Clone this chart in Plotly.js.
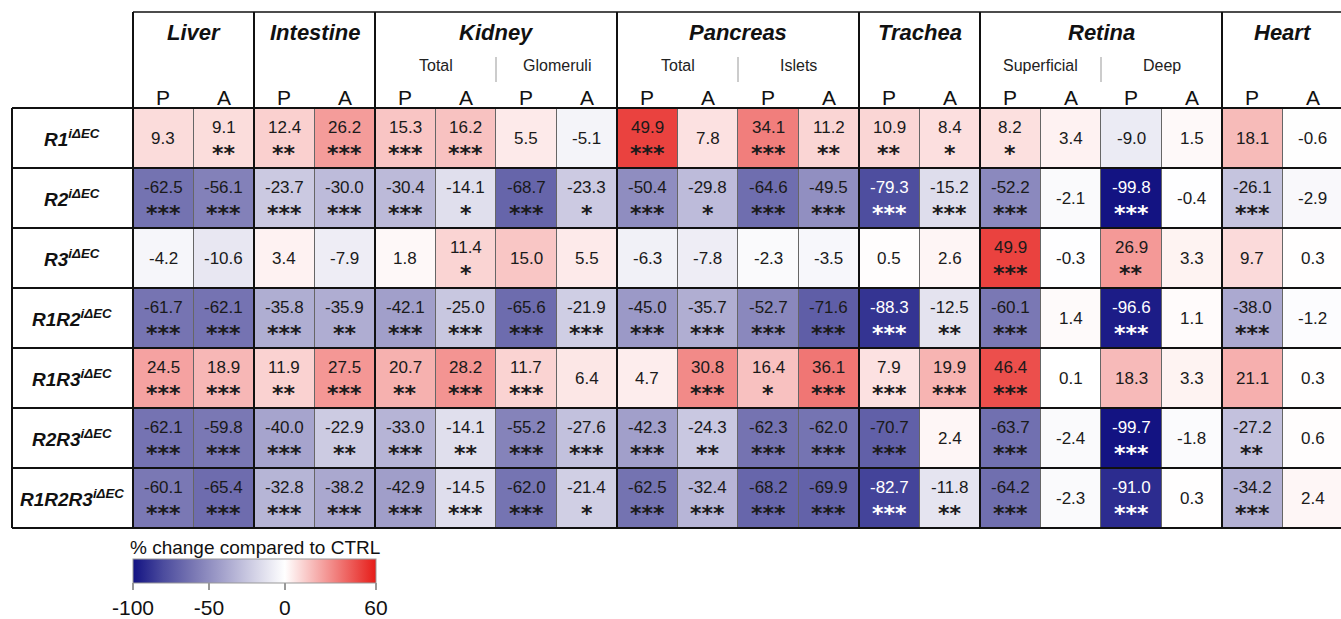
<!DOCTYPE html>
<html>
<head>
<meta charset="utf-8">
<script src="https://cdn.plot.ly/plotly-3.0.1.min.js"></script>
<style>html,body{margin:0;padding:0;background:#fff;}#chart{width:1341px;height:619px;}</style>
</head>
<body>
<div id="chart"></div>
<script>
// ---------- data ----------
const rowNames = ['R1','R2','R3','R1R2','R1R3','R2R3','R1R2R3'];
const rowSup = 'iΔEC';
const organs = ['Liver','Intestine','Kidney','Pancreas','Trachea','Retina','Heart'];
const organSpan = [2,2,4,4,2,4,2];
const subGroups = ['','','Total','Glomeruli','Total','Islets','','Superficial','Deep',''];
const colLabels = ['P','A','P','A','P','A','P','A','P','A','P','A','P','A','P','A','P','A','P','A'];

const valR1     = [9.3,9.1,12.4,26.2,15.3,16.2,5.5,-5.1,49.9,7.8,34.1,11.2,10.9,8.4,8.2,3.4,-9.0,1.5,18.1,-0.6];
const valR2     = [-62.5,-56.1,-23.7,-30.0,-30.4,-14.1,-68.7,-23.3,-50.4,-29.8,-64.6,-49.5,-79.3,-15.2,-52.2,-2.1,-99.8,-0.4,-26.1,-2.9];
const valR3     = [-4.2,-10.6,3.4,-7.9,1.8,11.4,15.0,5.5,-6.3,-7.8,-2.3,-3.5,0.5,2.6,49.9,-0.3,26.9,3.3,9.7,0.3];
const valR1R2   = [-61.7,-62.1,-35.8,-35.9,-42.1,-25.0,-65.6,-21.9,-45.0,-35.7,-52.7,-71.6,-88.3,-12.5,-60.1,1.4,-96.6,1.1,-38.0,-1.2];
const valR1R3   = [24.5,18.9,11.9,27.5,20.7,28.2,11.7,6.4,4.7,30.8,16.4,36.1,7.9,19.9,46.4,0.1,18.3,3.3,21.1,0.3];
const valR2R3   = [-62.1,-59.8,-40.0,-22.9,-33.0,-14.1,-55.2,-27.6,-42.3,-24.3,-62.3,-62.0,-70.7,2.4,-63.7,-2.4,-99.7,-1.8,-27.2,0.6];
const valR1R2R3 = [-60.1,-65.4,-32.8,-38.2,-42.9,-14.5,-62.0,-21.4,-62.5,-32.4,-68.2,-69.9,-82.7,-11.8,-64.2,-2.3,-91.0,0.3,-34.2,2.4];

const sigR1     = ['','**','**','***','***','***','','','***','','***','**','**','*','*','','','','',''];
const sigR2     = ['***','***','***','***','***','*','***','*','***','*','***','***','***','***','***','','***','','***',''];
const sigR3     = ['','','','','','*','','','','','','','','','***','','**','','',''];
const sigR1R2   = ['***','***','***','**','***','***','***','***','***','***','***','***','***','**','***','','***','','***',''];
const sigR1R3   = ['***','***','**','***','**','***','***','','','***','*','***','***','***','***','','','','',''];
const sigR2R3   = ['***','***','***','**','***','**','***','***','***','**','***','***','***','','***','','***','','**',''];
const sigR1R2R3 = ['***','***','***','***','***','***','***','*','***','***','***','***','***','**','***','','***','','***',''];

const cbTicks = [-100,-50,0,60];
const cbTitle = '% change compared to CTRL';

// ---------- build ----------
const values = [valR1,valR2,valR3,valR1R2,valR1R3,valR2R3,valR1R2R3];
const sigs = [sigR1,sigR2,sigR3,sigR1R2,sigR1R3,sigR2R3,sigR1R2R3];
const nCol = colLabels.length, nRow = rowNames.length;
const xIdx = colLabels.map((_,i)=>i);
const yIdx = rowNames.map((_,i)=>i);

const W = 1341, H = 619;
const L = 133, T = 108, B = 91;
const plotW = W - L, plotH = H - T - B;
const colW = 60.5;
const xr0 = -0.5, xr1 = -0.5 + plotW/colW;
const px2x = px => (px - L)/plotW;
const px2y = py => (H - B - py)/plotH;
const colPaper = b => (b - 0.5 - xr0)/(xr1 - xr0);

const F = 'Arial, "Liberation Sans", Helvetica, sans-serif';
const FS = '"DejaVu Sans", Arial, sans-serif';
const ann = [];
const shapes = [];
const A = o => Object.assign({showarrow:false, xanchor:'center', yanchor:'middle'}, o);

// cell texts
for (let r=0;r<nRow;r++){
  for (let c=0;c<nCol;c++){
    const v = values[r][c], s = sigs[r][c];
    const col = v < -75 ? '#ffffff' : '#1a1a1a';
    ann.push(A({x:c, y:r, xref:'x', yref:'y', text:v.toFixed(1),
      yshift: s ? 11 : 0, font:{family:F, size:17, color:col}}));
    if (s) ann.push(A({x:c, y:r, xref:'x', yref:'y', text:'<b>'+s+'</b>',
      yshift:-15, font:{family:FS, size:22, color:col}}));
  }
}
// row labels
rowNames.forEach((n,r)=>{
  ann.push(A({x:px2x(72), y:px2y(T + 60*r + 30), xref:'paper', yref:'paper',
    text:'<b><i>'+n+'<sup>'+rowSup+'</sup></i></b>', font:{family:F, size:19, color:'#111'}}));
});
// organ headers
let start = 0;
organs.forEach((o,i)=>{
  const span = organSpan[i];
  ann.push(A({x:start + (span-1)/2, y:px2y(33), xref:'x', yref:'paper',
    text:'<b><i>'+o+'</i></b>', font:{family:F, size:22, color:'#111'}}));
  start += span;
});
// subgroup headers
subGroups.forEach((g,i)=>{
  if (g) ann.push(A({x:2*i + 0.5, y:px2y(66), xref:'x', yref:'paper',
    text:g, font:{family:F, size:16, color:'#222'}}));
});
// P / A
colLabels.forEach((p,i)=>{
  ann.push(A({x:i, y:px2y(97), xref:'x', yref:'paper',
    text:p, font:{family:F, size:21, color:'#111'}}));
});
// colorbar title
ann.push(A({x:px2x(254.5), y:px2y(547), xref:'paper', yref:'paper',
  text:cbTitle, font:{family:F, size:19, color:'#111'}}));

// lines
const line = (x0,y0,x1,y1,w,c)=>shapes.push({type:'line',xref:'paper',yref:'paper',x0,y0,x1,y1,line:{color:c,width:w},layer:'above'});
for (let k=0;k<=nRow;k++) line(px2x(12), 1 - k/nRow, 1.01, 1 - k/nRow, 2, '#111');
line(0, px2y(12), 1.01, px2y(12), 1.5, '#111');
line(px2x(12), 0, px2x(12), 1, 2, '#111');
let b = 0;
const bounds = [0];
organSpan.forEach(s=>{ b += s; bounds.push(b); });
bounds.forEach(bb=>{ if (bb < nCol) line(colPaper(bb), 0, colPaper(bb), px2y(12), 2, '#111'); });
subGroups.forEach((g,i)=>{
  if (g && i>0 && subGroups[i-1] && !bounds.includes(2*i)) {
    line(colPaper(2*i), px2y(57), colPaper(2*i), px2y(82), 1, '#999');
  }
});

const colorscale = [
  [0.000,'rgb(18,18,130)'],
  [0.125,'rgb(76,76,158)'],
  [0.250,'rgb(122,120,180)'],
  [0.375,'rgb(166,164,205)'],
  [0.500,'rgb(211,210,230)'],
  [0.625,'rgb(255,255,255)'],
  [1.000,'rgb(230,28,24)']
];

const trace = {
  type:'heatmap', x:xIdx, y:yIdx, z:values, zmin:-100, zmax:60,
  colorscale, xgap:1, ygap:0, hoverinfo:'skip',
  colorbar:{orientation:'h', xref:'paper', yref:'paper',
    x:0, xanchor:'left', y:px2y(559), yanchor:'top',
    len:243, lenmode:'pixels', thickness:24, thicknessmode:'pixels',
    xpad:0, ypad:0, outlinewidth:1, outlinecolor:'#999',
    tickvals:cbTicks, ticktext:cbTicks.map(String), ticks:'outside', ticklen:7, tickcolor:'#999', tickwidth:1.5,
    tickfont:{family:F, size:21, color:'#111'}}
};

const layout = {
  width:W, height:H, margin:{l:L, r:0, t:T, b:B, pad:0, autoexpand:false},
  paper_bgcolor:'#fff', plot_bgcolor:'#666',
  xaxis:{range:[xr0,xr1], showgrid:false, zeroline:false, showticklabels:false, ticks:'', fixedrange:true},
  yaxis:{range:[nRow-0.5,-0.5], showgrid:false, zeroline:false, showticklabels:false, ticks:'', fixedrange:true},
  annotations:ann, shapes:shapes, showlegend:false
};

Plotly.newPlot('chart',[trace],layout,{displayModeBar:false, staticPlot:true});
</script>
</body>
</html>
